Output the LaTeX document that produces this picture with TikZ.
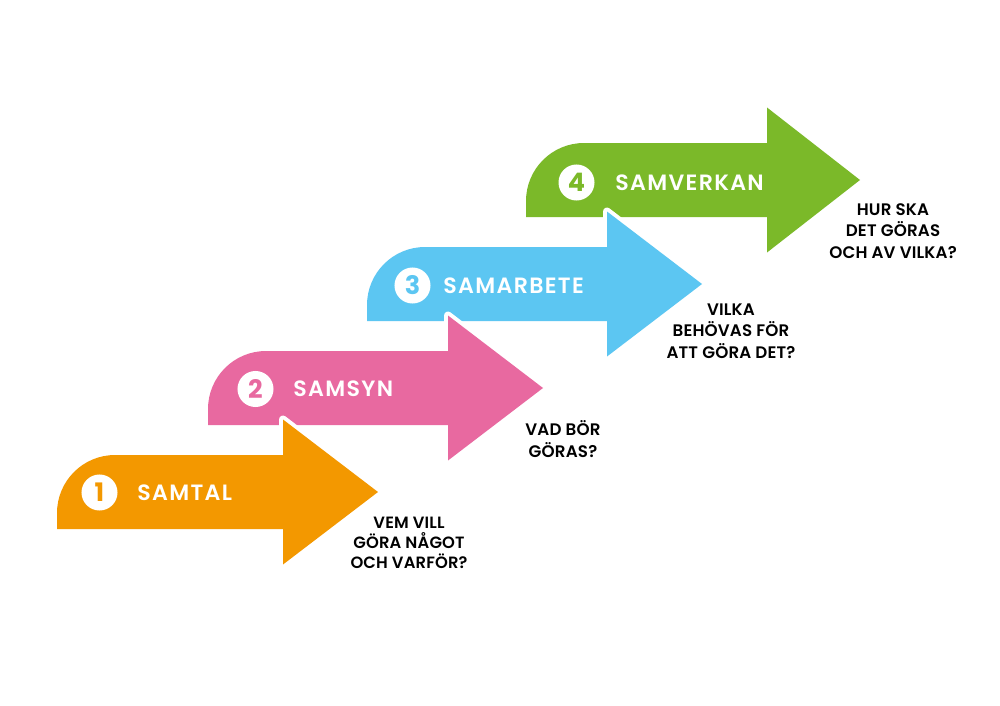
\documentclass[tikz,border=0pt]{standalone}
\usepackage{fontspec}
\setmainfont{Poppins}
\newfontfamily\stepfont{Poppins SemiBold}[LetterSpace=6]
\newfontfamily\askfont{Poppins SemiBold}[LetterSpace=1]
\newfontfamily\numfont{Poppins Bold}
\usetikzlibrary{positioning}

\definecolor{samtal}{RGB}{243,152,0}
\definecolor{samsyn}{RGB}{232,105,160}
\definecolor{samarbete}{RGB}{92,198,242}
\definecolor{samverkan}{RGB}{123,185,41}

\tikzset{
  halo/.style={preaction={draw=white, line width=4.5pt, line join=round}},
  num/.style={circle, fill=white, minimum size=20.5pt, inner sep=0pt, font=\numfont\fontsize{14.5}{15}\selectfont},
  title/.style={anchor=west, inner sep=0pt, text=white, font=\stepfont\fontsize{12.6}{14}\selectfont},
  question/.style={anchor=base, inner sep=0pt, align=center, font=\askfont\fontsize{9.5}{12.1}\selectfont}
}

\begin{document}
\begin{tikzpicture}[x=0.02cm, y=-0.02cm]
\useasboundingbox (0,0) rectangle (1000,706);
% the top arrow first, so each lower head lies over the body above it
\foreach \l/\b/\t/\m/\c in {526/767/860/180/samverkan, 367/607/702/284/samarbete, 208/448/543/388/samsyn, 57/283/378/492/samtal}
  \fill[\c, halo] (\l,\m+37) -- (\l,\m+21) .. controls (\l,\m-11) and (\l+26,\m-37) .. (\l+58,\m-37)
    -- (\b,\m-37) -- (\b,\m-72.5) -- (\t,\m) -- (\b,\m+72.5) -- (\b,\m+37) -- cycle;

% step 1
\node[num, text=samtal] (n1) at (99.5,492.5) {1};
\node[title] (t1) at (137,492.5) {SAMTAL};
\node[question, font=\askfont\fontsize{9.3}{11.3}\selectfont] (q1) at (409,568) {VEM VILL\\GÖRA NÅGOT\\OCH VARFÖR?};
% step 2
\node[num, text=samsyn] (n2) at (255.5,389) {2};
\node[title] (t2) at (293,389) {SAMSYN};
\node[question] (q2) at (563,457) {VAD BÖR\\GÖRAS?};
% step 3
\node[num, text=samarbete] (n3) at (412.5,285.5) {3};
\node[title] (t3) at (443,285.5) {SAMARBETE};
\node[question] (q3) at (731,358) {VILKA\\BEHÖVAS FÖR\\ATT GÖRA DET?};
% step 4
\node[num, text=samverkan] (n4) at (576.5,182.5) {4};
\node[title] (t4) at (615,182.5) {SAMVERKAN};
\node[question] (q4) at (893,258) {HUR SKA\\DET GÖRAS\\OCH AV VILKA?};
\end{tikzpicture}
\end{document}
